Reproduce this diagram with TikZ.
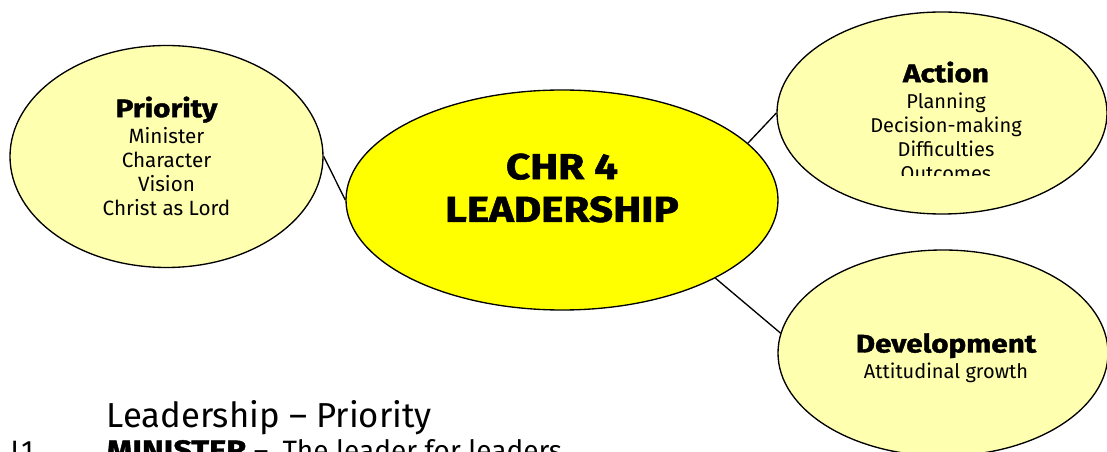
\documentclass[tikz,border=0pt]{standalone}
\usepackage{fontspec}
\setmainfont{Fira Sans}
\newcommand{\heavyfont}{\bfseries\addfontfeatures{FakeStretch=1.17,FakeBold=1.6}}
\usetikzlibrary{shapes.geometric}
\definecolor{paleyellow}{RGB}{255,255,176}
\definecolor{hotyellow}{RGB}{255,255,0}
\tikzset{every picture/.style={line width=1pt}}
\tikzset{bubble/.style={draw, ellipse, inner sep=0pt, fill=paleyellow}}

\begin{document}
\begin{tikzpicture}[x=0.75pt,y=0.75pt,yscale=-1, xscale=1]
\useasboundingbox (0,0) rectangle (1107,452);
\clip (0,0) rectangle (1107,452);

%Shape: Ellipse
\draw (166.5,156.5) node (priority) [bubble, minimum width=234.75pt, minimum height=166.5pt] {};
%Shape: Ellipse
\draw (562,200) node (chr) [bubble, fill=hotyellow, minimum width=324pt, minimum height=165pt] {};
%Shape: Ellipse
\draw (942,113) node (action) [bubble, minimum width=247.5pt, minimum height=151.5pt] {};
%Shape: Ellipse
\draw (943,353) node (development) [bubble, minimum width=247.5pt, minimum height=154.5pt] {};

% Connectors
\draw (priority.east) -- (chr.west);
\draw (chr.17) -- (action.west);
\draw (chr.-27) -- (development.173);

% Text Node
\draw (166.5,156) node (prioritytext) [inner sep=0.75pt, align=center, font=\fontsize{15.5}{18}\selectfont] {{\heavyfont\fontsize{19}{18}\selectfont Priority}\\[1.5pt] Minister\\ Character\\ Vision\\ Christ as Lord};
% Text Node
\draw (562,188) node (chrtext) [inner sep=0pt, align=center, font=\heavyfont\fontsize{27}{32}\selectfont] {CHR 4\\ LEADERSHIP};
% Text Node
\begin{scope}
\clip (770,0) rectangle (1107,176);
\draw (946,121) node (actiontext) [inner sep=0.75pt, align=center, font=\fontsize{15}{18}\selectfont] {{\heavyfont\fontsize{19}{18}\selectfont Action}\\[1.5pt] Planning\\ Decision-making\\ Difficulties\\ Outcomes};
\end{scope}
% Text Node
\draw (946,358) node (developmenttext) [inner sep=0.75pt, align=center, font=\fontsize{15}{18}\selectfont] {{\heavyfont\fontsize{19}{18}\selectfont Development}\\[1.5pt] Attitudinal growth};

% Text Node
\draw (106,427) node (heading) [anchor=base west, inner sep=0pt, font=\fontsize{26}{30}\selectfont] {Leadership – Priority};
% Text Node
\draw (10,460) node (itemno) [anchor=base west, inner sep=0pt, font=\fontsize{21}{26}\selectfont] {L1};
% Text Node
\draw (106,460) node (itemtext) [anchor=base west, inner sep=0pt, font=\fontsize{21}{26}\selectfont] {{\heavyfont MINISTER} –\hspace{0.5em}The leader for leaders};
\end{tikzpicture}
\end{document}
